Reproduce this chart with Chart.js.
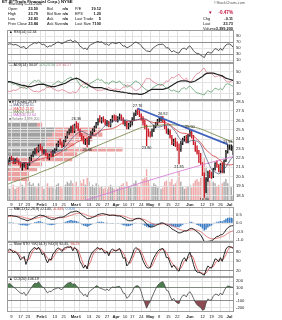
<!DOCTYPE html>
<html><head><meta charset="utf-8">
<script src="https://cdn.jsdelivr.net/npm/chart.js@4.4.1/dist/chart.umd.min.js"></script>
<style>
html,body{margin:0;padding:0;background:#fff;width:282px;height:320px;overflow:hidden;position:relative;}
canvas{position:absolute;left:0;top:0;}
.t{position:absolute;font-family:"Liberation Sans",Arial,sans-serif;font-size:3.9px;line-height:4px;white-space:nowrap;color:#111;}
</style></head><body>
<canvas id="cVbp" width="282" height="320"></canvas>
<canvas id="cVol" width="282" height="320"></canvas>
<canvas id="cPrice" width="282" height="320"></canvas>
<canvas id="cRsi" width="282" height="320"></canvas>
<canvas id="cAdx" width="282" height="320"></canvas>
<canvas id="cMacd" width="282" height="320"></canvas>
<canvas id="cSto" width="282" height="320"></canvas>
<canvas id="cCci" width="282" height="320"></canvas>
<script>
// ---------------- DATA ----------------
const dates=["1/5","1/6","1/9","1/10","1/11","1/12","1/13","1/17","1/18","1/19","1/20","1/23","1/24","1/25","1/26","1/27","1/30","1/31",
"2/1","2/2","2/3","2/6","2/7","2/8","2/9","2/10","2/13","2/14","2/15","2/16","2/17","2/21","2/22","2/23","2/24","2/27","2/28",
"3/1","3/2","3/3","3/6","3/7","3/8","3/9","3/10","3/13","3/14","3/15","3/16","3/17","3/20","3/21","3/22","3/23","3/24","3/27","3/28","3/29","3/30","3/31",
"4/3","4/4","4/5","4/6","4/7","4/10","4/11","4/12","4/13","4/17","4/18","4/19","4/20","4/21","4/24","4/25","4/26","4/27","4/28",
"5/1","5/2","5/3","5/4","5/5","5/8","5/9","5/10","5/11","5/12","5/15","5/16","5/17","5/18","5/19","5/22","5/23","5/24","5/25","5/26","5/30","5/31",
"6/1","6/2","6/5","6/6","6/7","6/8","6/9","6/12","6/13","6/14","6/15","6/16","6/19","6/20","6/21","6/22","6/23","6/26","6/27","6/28","6/29","6/30",
"7/3","7/5","7/6"];
const tickDates=["1/9","1/17","1/23","2/1","2/6","2/13","2/21","3/1","3/6","3/13","3/20","3/27","4/3","4/10","4/17","4/24","5/1","5/8","5/15","5/22","6/1","6/12","6/19","6/26","7/3"];
const tickText=["9","17","23","Feb","6","13","21","Mar","6","13","20","27","Apr","10","17","24","May","8","15","22","Jun","12","19","26","Jul"];

const open=[21.9,22.2,22.5,22.3,22.0,22.3,22.1,21.9,21.6,21.7,
21.9,21.4,21.8,22.5,22.7,23.1,23.4,23.2,23.8,23.5,
23.1,23.3,22.8,22.5,22.8,22.7,23.2,23.4,23.9,24.2,
24.0,23.8,24.3,24.7,25.2,25.4,25.8,25.3,26.0,25.9,
25.5,24.9,24.6,24.2,24.4,24.0,24.7,25.2,25.5,25.8,
26.2,26.6,26.4,26.7,26.4,26.1,26.3,25.9,26.5,26.8,
26.7,26.6,26.8,27.0,26.6,26.2,26.3,25.8,26.0,26.3,
26.6,27.2,27.5,27.3,27.1,26.7,26.2,25.8,25.3,25.0,
24.9,25.5,25.9,26.2,26.5,26.6,26.7,26.4,25.7,25.3,
25.4,24.7,24.0,24.3,23.9,23.6,23.4,24.1,24.5,24.7,
24.2,24.9,25.3,24.8,24.0,23.4,23.0,22.9,21.9,20.7,
19.0,20.2,21.0,20.6,20.5,21.3,21.9,21.7,21.1,21.8,
21.0,22.2,23.2,23.7,23.8,23.5];
const high=[22.3,22.6,22.7,22.5,22.4,22.5,22.3,22.0,21.9,22.0,
22.0,21.9,22.6,22.8,23.2,23.5,23.6,23.9,24.0,23.7,
23.4,23.4,23.0,22.9,23.2,23.3,23.5,24.0,24.3,24.5,
24.2,24.4,24.8,25.3,25.6,25.9,26.0,26.1,26.36,26.2,
25.6,25.1,24.8,24.5,24.6,24.8,25.3,25.6,25.9,26.3,
26.7,27.0,26.8,26.9,26.6,26.5,26.4,26.6,27.0,27.1,
27.0,26.9,27.2,27.1,26.8,26.5,26.4,26.2,26.4,26.8,
27.3,27.6,27.76,27.6,27.2,26.9,26.5,26.0,25.6,25.3,
25.6,26.0,26.3,26.6,26.8,26.9,26.92,26.5,25.9,25.6,
25.5,24.9,24.5,24.6,24.2,24.0,24.3,24.6,24.8,24.9,
25.0,25.5,25.4,24.9,24.2,23.8,23.3,23.0,22.0,20.9,
20.4,21.1,21.2,21.0,21.4,22.0,22.2,21.8,21.9,22.0,
22.3,23.3,23.93,23.9,23.9,23.79];
const low=[21.8,22.1,22.2,21.9,21.9,22.0,21.8,21.5,21.2,21.5,
21.3,21.3,21.7,22.2,22.6,22.9,23.0,23.1,23.3,23.0,
22.9,22.7,22.4,22.3,22.6,22.6,23.0,23.3,23.7,23.9,
23.6,23.7,24.2,24.6,25.0,25.2,25.2,25.2,25.7,25.4,
24.8,24.4,24.0,23.9,23.66,23.9,24.6,25.0,25.3,25.7,
26.0,26.3,26.2,26.3,26.0,25.9,25.8,25.8,26.3,26.5,
26.4,26.3,26.6,26.5,26.1,25.9,25.6,25.6,25.8,26.0,
26.5,27.0,27.1,26.9,26.5,26.0,25.6,23.8,24.8,24.7,
24.8,25.3,25.7,26.0,26.3,26.4,26.3,25.6,25.1,25.0,
24.6,23.9,23.8,23.7,23.3,21.85,23.2,23.9,24.3,24.1,
24.1,24.8,24.6,23.9,23.2,22.9,22.0,21.8,20.6,18.3,
18.8,20.0,20.4,20.3,20.4,21.2,21.5,21.0,20.9,20.9,
20.9,22.1,23.0,23.4,23.3,22.83];
const close=[22.2,22.5,22.3,22.0,22.3,22.1,21.9,21.6,21.7,21.9,
21.4,21.8,22.5,22.7,23.1,23.4,23.2,23.8,23.5,23.1,
23.3,22.8,22.5,22.8,22.7,23.2,23.4,23.9,24.2,24.0,
23.8,24.3,24.7,25.2,25.4,25.8,25.3,26.0,25.9,25.5,
24.9,24.6,24.2,24.4,24.0,24.7,25.2,25.5,25.8,26.2,
26.6,26.4,26.7,26.4,26.1,26.3,25.9,26.5,26.8,26.7,
26.6,26.8,27.0,26.6,26.2,26.3,25.8,26.0,26.3,26.6,
27.2,27.5,27.3,27.1,26.7,26.2,25.8,25.3,25.0,24.9,
25.5,25.9,26.2,26.5,26.6,26.7,26.4,25.7,25.3,25.4,
24.7,24.0,24.3,23.9,23.6,23.4,24.1,24.5,24.7,24.2,
24.9,25.3,24.8,24.0,23.4,23.0,22.9,21.9,20.7,19.0,
20.2,21.0,20.6,20.5,21.3,21.9,21.7,21.1,21.8,21.0,
22.2,23.2,23.7,23.8,23.84,23.73];
const volume=[9,8,10,11,8,9,10,12,11,9,
14,12,13,11,12,10,9,12,11,10,
8,11,12,9,10,9,8,11,12,10,
9,10,11,13,12,14,12,11,13,10,
14,12,15,11,16,13,10,11,9,12,
11,9,10,8,9,8,10,11,9,8,
9,8,10,11,12,9,13,10,9,11,
12,14,11,10,13,15,16,22,14,11,
10,12,11,9,10,8,9,13,14,10,
13,15,11,12,14,20,13,10,8,9,
10,11,9,12,14,15,13,16,20,30,
24,18,14,12,13,12,10,11,10,12,
13,15,12,9,10,3.3992];
const ma10=[22.1,22.1,22.2,22.2,22.2,22.2,22.1,22.1,22.0,22.05,
21.97,21.90,21.92,21.99,22.07,22.20,22.33,22.55,22.73,22.85,
23.04,23.14,23.14,23.15,23.11,23.09,23.11,23.12,23.19,23.28,
23.33,23.48,23.70,23.94,24.21,24.47,24.66,24.87,25.04,25.19,
25.30,25.33,25.28,25.20,25.06,24.95,24.94,24.89,24.88,24.95,
25.12,25.30,25.55,25.75,25.96,26.12,26.19,26.29,26.39,26.44,
26.44,26.48,26.51,26.53,26.54,26.54,26.53,26.48,26.43,26.42,
26.48,26.55,26.58,26.63,26.68,26.67,26.67,26.60,26.47,26.30,
26.13,25.97,25.86,25.80,25.79,25.84,25.90,25.94,25.97,26.02,
25.94,25.75,25.56,25.30,25.00,24.67,24.44,24.32,24.26,24.14,
24.16,24.29,24.34,24.35,24.33,24.29,24.17,23.91,23.51,22.99,
22.52,22.09,21.67,21.32,21.11,21.00,20.88,20.80,20.91,21.11,
21.31,21.53,21.84,22.17,22.42,22.61];
const ma20=[21.9,21.9,22.0,22.0,22.0,22.0,22.0,22.0,22.0,22.0,
22.03,22.0,22.06,22.1,22.13,22.2,22.22,22.33,22.37,22.45,
22.5,22.52,22.53,22.57,22.59,22.65,22.72,22.84,22.96,23.07,
23.19,23.31,23.42,23.55,23.66,23.78,23.89,24.0,24.12,24.24,
24.32,24.41,24.49,24.57,24.64,24.71,24.8,24.88,24.96,25.07,
25.21,25.32,25.42,25.48,25.51,25.54,25.57,25.59,25.64,25.7,
25.78,25.89,26.03,26.14,26.25,26.33,26.36,26.39,26.41,26.43,
26.46,26.52,26.55,26.58,26.61,26.61,26.6,26.54,26.45,26.36,
26.31,26.26,26.22,26.22,26.24,26.26,26.29,26.27,26.22,26.16,
26.04,25.86,25.71,25.55,25.4,25.26,25.17,25.13,25.12,25.08,
25.05,25.02,24.95,24.83,24.67,24.48,24.31,24.12,23.89,23.57,
23.34,23.19,23.01,22.84,22.72,22.65,22.53,22.36,22.21,22.05,
21.92,21.81,21.76,21.75,21.77,21.81];
const ma50=[19.7,19.78,19.86,19.93,20.0,20.07,20.13,20.19,20.25,20.31,
20.37,20.43,20.5,20.57,20.64,20.72,20.8,20.88,20.96,21.04,
21.12,21.19,21.26,21.33,21.4,21.48,21.56,21.65,21.74,21.83,
21.92,22.01,22.1,22.2,22.3,22.4,22.5,22.6,22.7,22.8,
22.9,23.0,23.1,23.2,23.3,23.4,23.5,23.58,23.66,23.74,
23.82,23.9,23.98,24.06,24.14,24.22,24.3,24.38,24.46,24.54,
24.62,24.7,24.78,24.86,24.94,25.02,25.1,25.18,25.26,25.34,
25.42,25.5,25.58,25.66,25.72,25.77,25.8,25.83,25.86,25.88,
25.9,25.92,25.94,25.96,25.98,26.0,26.02,26.03,26.04,26.04,
26.04,26.03,26.02,26.0,25.98,25.96,25.94,25.93,25.92,25.9,
25.88,25.85,25.82,25.79,25.75,25.7,25.65,25.59,25.52,25.44,
25.36,25.28,25.2,25.12,25.04,24.96,24.88,24.8,24.72,24.64,
24.56,24.48,24.4,24.32,24.25,24.18];
const ma200=[15.50,15.56,15.62,15.67,15.73,15.79,15.85,15.90,15.96,16.02,
16.08,16.13,16.19,16.25,16.31,16.36,16.42,16.48,16.54,16.59,
16.65,16.71,16.77,16.82,16.88,16.94,17.00,17.05,17.11,17.17,
17.23,17.28,17.34,17.40,17.46,17.51,17.57,17.63,17.69,17.75,
17.81,17.87,17.93,17.99,18.05,18.11,18.17,18.23,18.29,18.35,
18.41,18.47,18.53,18.59,18.65,18.71,18.77,18.83,18.89,18.95,
19.01,19.07,19.13,19.19,19.25,19.31,19.37,19.43,19.49,19.55,
19.61,19.67,19.73,19.79,19.85,19.91,19.97,20.03,20.09,20.14,
20.20,20.26,20.32,20.38,20.44,20.49,20.55,20.61,20.67,20.72,
20.78,20.84,20.89,20.95,21.01,21.06,21.12,21.17,21.23,21.28,
21.34,21.39,21.45,21.50,21.56,21.61,21.66,21.72,21.77,21.82,
21.88,21.93,21.98,22.03,22.09,22.14,22.19,22.24,22.29,22.34,
22.39,22.44,22.49,22.54,22.59,22.64];
const trendDates=["4/20","6/30"];
const trendVals=[27.76,23.95];
const annDates=["3/2","3/10","4/20","4/27","5/10","5/23","6/1","6/13","6/30"];
const annKind=["h","l","h","l","h","l","h","l","h"];
const vbpZones=[18.69,19.48,20.27,21.06,21.85,22.64,23.42,24.21,25.0,25.79,26.58,27.37];
const vbpUp=[0,0,4,10,20,60,120,76,80,90,96,60];
const vbpDown=[44,44,56,60,110,80,110,60,90,100,90,10];
const rsi=[62,64,63,60,62,60,57,52,53,55,
47,51,58,61,65,68,65,70,66,61,
63,56,53,57,56,61,63,68,70,67,
64,68,71,74,75,77,70,74,72,66,
56,52,47,50,44,56,61,64,67,70,
72,69,71,66,62,64,58,65,68,66,
65,67,69,62,56,57,50,53,57,61,
67,70,67,64,58,50,45,40,39,38,
46,52,56,60,62,62,63,57,50,51,
43,37,41,37,34,33,43,48,50,44,
53,57,50,41,35,32,31,26,22,18,
30,37,34,33,41,48,46,41,49,42,
52,60,63,63,60,52.34];
const adx=[32,32,31,30,29,28,27,26,25,25,
24,23,23,23,24,25,26,27,27,27,
27,26,25,24,23,23,23,24,25,26,
27,28,29,31,33,35,36,37,38,37,
35,33,31,29,27,25,23,22,21,21,
21,21,21,20,19,18,17,16,16,15,
15,14,14,13,13,12,12,11,11,10,
10,10,10,9,9,10,11,13,15,17,
18,18,18,18,18,18,18,19,20,21,
23,25,27,29,31,32,33,33,33,33,
32,31,31,32,33,35,37,39,41,44,
46,47,47,47,47,46,45,44,43,42,
40,38,37,36,35,34.07];
const plusDI=[30,31,29,27,28,26,24,21,22,23,
19,21,27,29,32,34,32,35,31,28,
28,24,22,24,23,27,28,31,33,31,
29,32,34,37,38,40,35,38,36,31,
26,24,21,23,20,27,29,31,33,35,
37,34,35,32,29,30,27,31,33,32,
30,31,33,29,26,26,22,23,25,27,
31,33,31,29,25,22,19,17,16,16,
20,22,24,26,27,27,26,23,20,20,
17,15,17,15,14,13,18,20,21,18,
22,24,21,17,14,12,11,10,9,8,
13,16,14,13,17,20,19,17,20,17,
22,27,28,27,25,23.54];
const minusDI=[15,14,15,17,16,17,19,22,21,20,
25,23,19,17,15,14,15,13,15,17,
17,20,22,21,22,19,18,16,15,16,
18,16,15,13,12,11,14,12,13,16,
22,25,28,27,30,25,23,21,19,17,
16,17,16,18,20,19,22,19,18,18,
19,18,17,19,22,22,26,25,23,21,
18,16,17,19,23,28,33,38,37,37,
33,31,29,27,26,25,26,30,33,32,
36,40,38,41,43,45,40,37,35,38,
33,30,33,38,43,46,47,50,54,56,
50,46,47,47,43,40,41,43,40,43,
37,33,32,31,33,34.27];
const macd=[0.45,0.47,0.47,0.44,0.43,0.40,0.36,0.30,0.26,0.24,
0.18,0.16,0.20,0.24,0.30,0.37,0.40,0.47,0.49,0.47,
0.46,0.40,0.33,0.29,0.24,0.24,0.25,0.30,0.35,0.37,
0.37,0.40,0.46,0.54,0.61,0.68,0.68,0.72,0.73,0.70,
0.62,0.53,0.43,0.37,0.28,0.28,0.31,0.35,0.40,0.46,
0.53,0.55,0.58,0.58,0.55,0.53,0.48,0.48,0.49,0.48,
0.46,0.44,0.44,0.40,0.33,0.28,0.20,0.16,0.15,0.16,
0.22,0.28,0.30,0.30,0.26,0.18,0.08,-0.04,-0.14,-0.21,
-0.22,-0.19,-0.14,-0.08,-0.03,0.01,0.02,-0.03,-0.10,-0.14,
-0.22,-0.33,-0.39,-0.45,-0.52,-0.58,-0.56,-0.51,-0.46,-0.46,
-0.40,-0.32,-0.30,-0.34,-0.42,-0.51,-0.58,-0.71,-0.88,-1.11,
-1.14,-1.09,-1.07,-1.05,-0.98,-0.87,-0.79,-0.77,-0.69,-0.68,
-0.56,-0.40,-0.27,-0.19,-0.15,-0.140];
const macdSignal=[0.40,0.41,0.42,0.43,0.43,0.43,0.42,0.40,0.38,0.35,
0.32,0.29,0.27,0.26,0.27,0.29,0.31,0.34,0.37,0.39,
0.41,0.41,0.40,0.38,0.36,0.34,0.32,0.32,0.32,0.33,
0.34,0.35,0.37,0.40,0.44,0.48,0.52,0.56,0.59,0.61,
0.61,0.60,0.57,0.53,0.48,0.44,0.41,0.40,0.40,0.41,
0.44,0.46,0.48,0.50,0.51,0.52,0.51,0.50,0.50,0.50,
0.49,0.48,0.47,0.46,0.44,0.41,0.37,0.33,0.29,0.26,
0.26,0.26,0.27,0.27,0.27,0.25,0.22,0.16,0.10,0.04,
-0.01,-0.05,-0.07,-0.07,-0.06,-0.05,-0.03,-0.03,-0.04,-0.06,
-0.09,-0.14,-0.19,-0.24,-0.30,-0.35,-0.39,-0.42,-0.43,-0.44,
-0.43,-0.41,-0.39,-0.38,-0.39,-0.41,-0.44,-0.50,-0.57,-0.68,
-0.77,-0.84,-0.89,-0.92,-0.93,-0.92,-0.89,-0.87,-0.83,-0.80,
-0.75,-0.68,-0.60,-0.53,-0.49,-0.449];
const stoK=[85,90,86,78,82,76,68,55,60,66,
40,55,78,85,92,95,88,96,86,72,
76,58,45,58,55,74,80,90,94,88,
82,92,95,97,96,98,84,95,90,75,
50,40,28,38,25,55,70,80,86,92,
95,88,92,84,76,82,68,85,90,86,
83,88,92,78,60,62,35,42,55,70,
88,95,90,85,70,52,40,30,28,30,
48,62,72,82,88,90,92,80,62,62,
45,30,38,30,22,18,40,55,62,50,
68,80,62,40,22,15,14,12,8,5,
22,35,30,28,42,58,56,48,62,50,
72,90,97,98,96,92.45];
const stoD=[80,84,87,85,82,79,75,66,61,60,
55,54,58,73,85,91,92,93,90,85,
78,69,60,54,53,62,70,81,88,91,
88,87,90,95,96,97,93,92,90,87,
72,55,39,35,30,39,50,68,79,86,
91,92,92,88,84,81,75,78,81,87,
86,86,88,86,77,67,52,46,44,56,
71,84,91,90,82,69,54,41,33,29,
35,47,61,72,81,87,90,87,78,68,
56,46,38,33,30,23,27,38,52,56,
60,66,70,61,41,26,17,14,11,8,
12,21,29,31,33,43,52,54,55,53,
61,71,86,95,97,94.23];
const cci=[150,165,140,110,95,70,40,20,10,30,
-20,10,60,100,140,170,160,190,150,110,
100,60,20,45,40,70,80,90,100,80,
70,110,140,165,175,180,150,160,130,100,
40,20,-20,0,-40,30,60,80,100,130,
120,95,85,75,60,80,55,90,110,105,
110,115,120,80,20,10,-60,-40,10,40,
100,125,130,110,40,-60,-130,-210,-150,-110,
-40,20,80,130,160,180,190,140,60,50,
-20,-90,-60,-110,-130,-140,-60,-20,-10,-40,
10,40,0,-60,-120,-160,-180,-200,-240,-230,
-130,-70,-90,-85,-30,0,0,-20,20,-10,
50,100,125,120,110,106.19];
const priceTicks=[18.5,19,19.5,20,20.5,21,21.5,22,22.5,23,23.5,24,24.5,25,25.5,26,26.5,27,27.5,28,28.5];
const volTicks=[5,10,15,20];
const rsiTicks=[10,30,50,70,90];
const adxTicks=[10,20,30,40,50,60];
const macdTicks=[-1,-0.5,0,0.5];
const stoTicks=[20,50,80];
const cciTicks=[-200,-100,0,100,200];

// ---------------- CHARTS ----------------
const FONT='"Liberation Sans", Arial, sans-serif';
const H=320, L=7, RW=48;
const tickMap={}; tickDates.forEach((d,k)=>{tickMap[d]=tickText[k];});
const months=['Feb','Mar','Apr','May','Jun','Jul'];
const isUp=close.map((c,i)=>c>=open[i]);
const idxOf=d=>dates.indexOf(d);

const frame={id:'frame',afterDraw(c){const a=c.chartArea,x=c.ctx;x.save();x.strokeStyle='#9c9c9c';x.lineWidth=1;
  x.strokeRect(Math.round(a.left)+0.5,Math.round(a.top)+0.5,Math.round(a.right-a.left)-1,Math.round(a.bottom-a.top)-1);x.restore();}};

function xAxis(show){return {type:'category',offset:true,display:true,
  grid:{offset:false,drawTicks:false,lineWidth:1,color:c=>tickMap[dates[c.index]]!==undefined?'#e0e0e0':'rgba(0,0,0,0)'},
  border:{display:false},
  ticks:{display:show,autoSkip:false,maxRotation:0,minRotation:0,padding:2.5,color:'#222',
    font:c=>({family:FONT,size:4.2,weight:months.includes(tickMap[dates[c.index]])?'bold':'normal'}),
    callback:(v,i)=>tickMap[dates[i]]||''},
  afterFit:s=>{s.height=show?8:0;}};}
function yAxis(min,max,vals,fmt,strong){return {type:'linear',position:'right',min:min,max:max,
  afterBuildTicks:s=>{s.ticks=vals.map(v=>({value:v}));},
  afterFit:s=>{s.width=RW;s.paddingTop=0;s.paddingBottom=0;},
  grid:{drawTicks:false,lineWidth:1,color:c=>(c.tick&&strong&&strong.includes(c.tick.value))?'#8e8e8e':'#e4e4e4'},
  border:{display:false},
  ticks:{padding:2,color:'#222',font:{family:FONT,size:4.2},callback:fmt}};}
function opts(top,bottom,show,scales,extra){return Object.assign({responsive:false,animation:false,events:[],
  layout:{padding:{left:L,right:0,top:top,bottom:H-bottom-(show?8:0)}},
  plugins:{legend:{display:false},tooltip:{enabled:false}},scales:scales},extra||{});}
function ln(data,color,w,extra){return Object.assign({type:'line',data:data,borderColor:color,borderWidth:w,pointRadius:0,fill:false,tension:0},extra||{});}

// volume by price (behind)
new Chart(document.getElementById('cVbp'),{type:'bar',
  data:{datasets:[
    {data:vbpZones.map((z,k)=>({x:vbpUp[k],y:z})),backgroundColor:'rgba(125,125,125,0.72)',categoryPercentage:1,barPercentage:0.84},
    {data:vbpZones.map((z,k)=>({x:vbpDown[k],y:z})),backgroundColor:'rgba(228,118,118,0.68)',categoryPercentage:1,barPercentage:0.84}]},
  options:{indexAxis:'y',responsive:false,animation:false,events:[],
    layout:{padding:{left:L,right:RW,top:99.5,bottom:120}},
    plugins:{legend:{display:false},tooltip:{enabled:false}},
    scales:{x:{type:'linear',min:0,max:452,stacked:true,display:false},
            y:{type:'linear',min:18.02,max:28.72,stacked:true,display:false}}}});

// volume bars
new Chart(document.getElementById('cVol'),{type:'bar',
  data:{labels:dates,datasets:[{data:volume,backgroundColor:isUp.map(u=>u?'rgba(100,100,100,0.55)':'rgba(224,96,96,0.55)'),barPercentage:0.78,categoryPercentage:1}]},
  options:{responsive:false,animation:false,events:[],
    layout:{padding:{left:0,right:RW,top:99.5,bottom:120}},
    plugins:{legend:{display:false},tooltip:{enabled:false}},
    scales:{x:{type:'category',offset:true,display:false},
      y:{type:'linear',position:'left',min:0,max:72,
        afterBuildTicks:s=>{s.ticks=volTicks.map(v=>({value:v}));},
        afterFit:s=>{s.width=L;s.paddingTop=0;s.paddingBottom=0;},
        grid:{display:false},border:{display:false},
        ticks:{padding:0.3,color:'#222',font:{family:FONT,size:3.8},callback:v=>v+'M'}}}}});

// price chart
const trendData=dates.map(d=>{const k=trendDates.indexOf(d);return k>=0?trendVals[k]:null;});
const annot={id:'annot',afterDatasetsDraw(c){const xs=c.scales.x,ys=c.scales.y,ctx=c.ctx;ctx.save();
  ctx.font='3.8px '+FONT;ctx.fillStyle='#111';ctx.textAlign='center';
  annDates.forEach((d,k)=>{const i=idxOf(d);const v=annKind[k]==='h'?high[i]:low[i];
    const px=xs.getPixelForValue(i),py=ys.getPixelForValue(v);
    if(annKind[k]==='h'){ctx.textBaseline='bottom';ctx.fillText(v.toFixed(2),px,py-0.8);}
    else{ctx.textBaseline='top';ctx.fillText(v.toFixed(2),px,py+0.8);}});
  ctx.restore();}};
new Chart(document.getElementById('cPrice'),{type:'bar',
  data:{labels:dates,datasets:[
    ln(trendData,'#3f62bf',1.8,{spanGaps:true}),
    ln(ma10,'#4a5078',0.7),
    ln(ma20,'#d83a3a',0.8),
    ln(ma50,'#77874a',0.9),
    ln(ma200,'#d67ad6',0.9),
    {type:'bar',data:open.map((o,i)=>[o,close[i]]),grouped:false,barPercentage:0.72,categoryPercentage:1,
      backgroundColor:isUp.map(u=>u?'#ffffff':'#d21f2a'),borderColor:isUp.map(u=>u?'#111111':'#d21f2a'),borderWidth:0.5,borderSkipped:false},
    {type:'bar',data:low.map((l,i)=>[l,high[i]]),grouped:false,barThickness:0.7,
      backgroundColor:isUp.map(u=>u?'#111111':'#c81c28')}]},
  options:opts(99.5,200,true,{x:xAxis(true),y:yAxis(18.02,28.72,priceTicks,v=>v.toFixed(1))}),
  plugins:[frame,annot]});

// RSI
new Chart(document.getElementById('cRsi'),{type:'line',
  data:{labels:dates,datasets:[ln(rsi,'#444',0.9)]},
  options:opts(30,63,false,{x:xAxis(false),y:yAxis(0,110,rsiTicks,v=>String(v),[30,70])}),plugins:[frame]});

// ADX
new Chart(document.getElementById('cAdx'),{type:'line',
  data:{labels:dates,datasets:[ln(adx,'#222',1.2),ln(plusDI,'#62a070',0.8),ln(minusDI,'#e07e92',0.8)]},
  options:opts(63,99.5,false,{x:xAxis(false),y:yAxis(0,65,adxTicks,v=>String(v))}),plugins:[frame]});

// MACD
const hist=macd.map((m,i)=>+(m-macdSignal[i]).toFixed(3));
new Chart(document.getElementById('cMacd'),{type:'bar',
  data:{labels:dates,datasets:[ln(macd,'#111',0.9),ln(macdSignal,'#e06464',0.8),
    {type:'bar',data:hist,backgroundColor:'#3c7cc4',barPercentage:0.85,categoryPercentage:1}]},
  options:opts(207,242,false,{x:xAxis(false),y:yAxis(-1.12,0.98,macdTicks,v=>v.toFixed(1))}),plugins:[frame]});

// Slow STO
new Chart(document.getElementById('cSto'),{type:'line',
  data:{labels:dates,datasets:[ln(stoK,'#111',0.9),ln(stoD,'#e06464',0.9)]},
  options:opts(242,277,false,{x:xAxis(false),y:yAxis(-1,113,stoTicks,v=>String(v),[20,80])}),plugins:[frame]});

// CCI
new Chart(document.getElementById('cCci'),{type:'line',
  data:{labels:dates,datasets:[
    ln(cci,'#444',0.8,{fill:{target:{value:100},above:'#4c7d4c',below:'rgba(0,0,0,0)'}}),
    ln(cci,'rgba(0,0,0,0)',0,{fill:{target:{value:-100},above:'rgba(0,0,0,0)',below:'#8c4a52'}})]},
  options:opts(277,312,true,{x:xAxis(true),y:yAxis(-268,262,cciTicks,v=>String(v),[-100,100])}),plugins:[frame]});

// ---------------- TEXT ----------------
function T(html,x,y,o){o=o||{};const d=document.createElement('div');d.className='t';d.innerHTML=html;d.style.top=y+'px';
  if(o.right!==undefined){d.style.right=(282-o.right)+'px';d.style.textAlign='right';}else{d.style.left=x+'px';}
  if(o.b)d.style.fontWeight='bold';if(o.c)d.style.color=o.c;if(o.s){d.style.fontSize=o.s+'px';d.style.lineHeight=o.s+'px';}
  document.body.appendChild(d);return d;}
const last=a=>a[a.length-1];
T('ET (E*Trade Financial Corp.) NYSE',2,-0.3,{b:1,s:4.3});
T('&copy;StockCharts.com',214,2,{s:3.7,c:'#555'});
T('Thursday 6-Jul-2006',8,3,{s:3.7});
const rowTop=[7,12,17,22];
['Open','High','Low','Prev Close'].forEach((s,k)=>T(s,8,rowTop[k]));
['23.50','23.79','22.83','23.84'].forEach((s,k)=>T(s,0,rowTop[k],{right:38,b:1}));
['Bid','Bid Size','Ask','Ask Size'].forEach((s,k)=>T(s,47,rowTop[k]));
['n/a','n/a','n/a','n/a'].forEach((s,k)=>T(s,0,rowTop[k],{right:68,b:1}));
['P/E','EPS','Last Trade','Last Size'].forEach((s,k)=>T(s,75,rowTop[k]));
['19.12','1.20','5','7100'].forEach((s,k)=>T(s,0,rowTop[k],{right:101,b:1}));
T('&#9660;',208,11,{s:4.6,c:'#a8103a'});
T('-0.47%',0,11,{right:233,b:1,s:4.6,c:'#c4103c'});
T('Chg',203,17);T('-0.11',0,17,{right:233,b:1});
T('Last',203,22);T(close[close.length-1].toFixed(2),0,22,{right:233,b:1});
T('Volume',203,26.5);T(Math.round(last(volume)*1e6).toLocaleString('en-US'),0,26.5,{right:233,b:1});

T('&#9650; RSI(14) '+last(rsi).toFixed(2),9,31,{s:3.7});
T('&mdash; ADX(14) '+last(adx).toFixed(2)+' <span style="color:#4f9060">+DI '+last(plusDI).toFixed(2)+'</span> <span style="color:#d06a80">-DI '+last(minusDI).toFixed(2)+'</span>',9,64.2,{s:3.7});
const lg=[['&#9632; ET (Daily) '+last(close).toFixed(2),'#111'],
 ['&mdash; MA(10) '+last(ma10).toFixed(2),'#4a5078'],
 ['&mdash; MA(20) '+last(ma20).toFixed(2),'#d83a3a'],
 ['&mdash; MA(50) '+last(ma50).toFixed(2),'#66763a'],
 ['&mdash; MA(200) '+last(ma200).toFixed(2),'#c060c0'],
 ['&#9632; Volume '+Math.round(last(volume)*1e6).toLocaleString('en-US'),'#777']];
lg.forEach((e,k)=>T(e[0],9,100.8+k*3.4,{s:3.4,c:e[1]}));
T('&mdash; MACD(12,26,9) '+last(macd).toFixed(3)+', <span style="color:#d04848">'+last(macdSignal).toFixed(3)+'</span>, <span style="color:#3c7cc4">'+last(hist).toFixed(3)+'</span>',9,207.5,{s:3.7});
T('&mdash; Slow STO %K(14,3) %D(3) '+last(stoK).toFixed(2)+', <span style="color:#d04848">'+last(stoD).toFixed(2)+'</span>',9,243.3,{s:3.7});
T('&#9650; CCI(20) '+last(cci).toFixed(2),9,278.3,{s:3.7});
</script>
</body></html>
